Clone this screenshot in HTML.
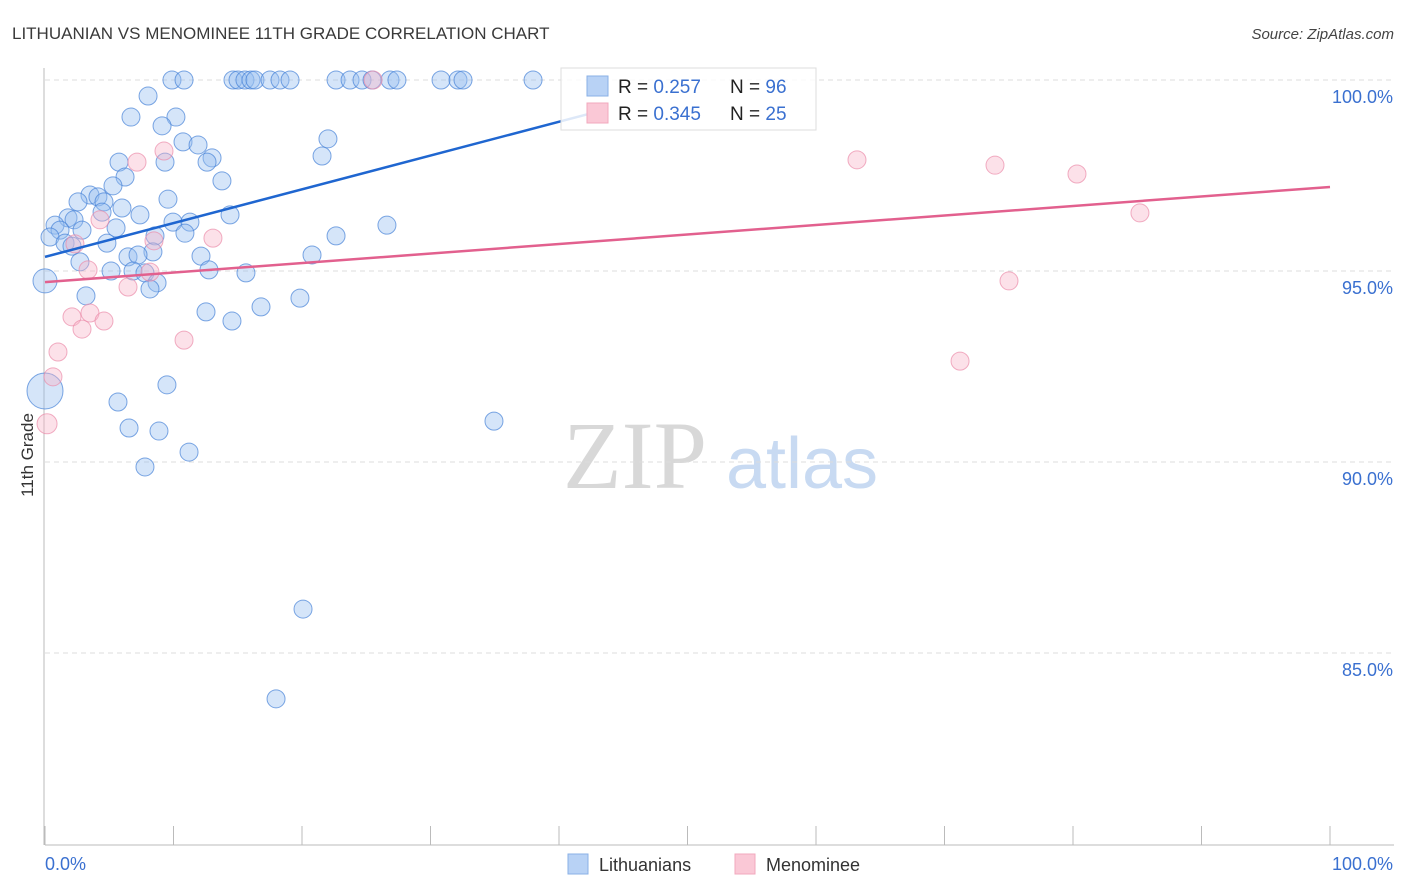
<!DOCTYPE html>
<html><head><meta charset="utf-8"><style>
body{margin:0;background:#fff;}
svg{display:block;font-family:"Liberation Sans",sans-serif;}
</style></head><body>
<svg id="chart" width="1406" height="892" viewBox="0 0 1406 892">
<text x="12" y="39" font-size="17" fill="#3a3a3a">LITHUANIAN VS MENOMINEE 11TH GRADE CORRELATION CHART</text>
<text x="1394" y="39" font-size="15" fill="#444" font-style="italic" text-anchor="end">Source: ZipAtlas.com</text>
<g>
<text x="635" y="488" font-size="96" font-family="Liberation Serif,serif" fill="#d8d8d8" text-anchor="middle">ZIP</text>
<text x="802" y="488" font-size="72" fill="#c8daf2" text-anchor="middle">atlas</text>
</g>
<g id="grid"></g>
<g id="axes"></g>
<g id="points"></g>
<g id="lines"></g>
<text transform="translate(33,455) rotate(-90)" font-size="17" fill="#333" text-anchor="middle">11th Grade</text>
<g>
<rect x="561" y="68" width="255" height="62" fill="#fff" fill-opacity="0.85" stroke="#ddd"/>
<rect x="587" y="76" width="21" height="20" fill="#b8d2f5" stroke="#8ab0e6"/>
<rect x="587" y="103" width="21" height="20" fill="#fac8d6" stroke="#f2a8bd"/>
<text x="618" y="93" font-size="19" fill="#222">R = <tspan fill="#3a70d0">0.257</tspan><tspan x="730">N = </tspan><tspan fill="#3a70d0">96</tspan></text>
<text x="618" y="120" font-size="19" fill="#222">R = <tspan fill="#3a70d0">0.345</tspan><tspan x="730">N = </tspan><tspan fill="#3a70d0">25</tspan></text>
</g>
<g>
<rect x="568" y="854" width="20" height="20" fill="#b8d2f5" stroke="#8ab0e6"/>
<text x="599" y="871" font-size="18" fill="#333">Lithuanians</text>
<rect x="735" y="854" width="20" height="20" fill="#fac8d6" stroke="#f2a8bd"/>
<text x="766" y="871" font-size="18" fill="#333">Menominee</text>
</g>
</svg>
<script>
const yTicks=[100,95,90,85];
const yTickLabels=["100.0%","95.0%","90.0%","85.0%"];
const xTicks=[0,10,20,30,40,50,60,70,80,90,100];
const xEndLabels=["0.0%","100.0%"];
const blueX=[9.88,10.82,14.63,15.02,15.56,16.03,16.34,17.51,18.29,19.07,22.65,23.74,24.67,25.45,26.85,27.39,30.82,32.14,32.53,37.98,
8.02,6.69,10.19,9.11,10.74,11.91,22.02,5.76,9.34,13.0,12.61,21.56,6.23,13.77,5.29,3.5,4.12,9.57,2.57,4.59,4.44,5.99,7.39,14.40,1.79,0.78,2.26,1.17,2.88,5.53,9.96,11.28,10.89,8.56,22.65,26.61,0.39,1.56,2.1,4.82,8.4,6.46,7.24,12.14,20.78,2.72,5.14,6.85,7.78,12.76,15.64,8.72,8.17,3.19,0,12.53,14.55,16.81,19.84,9.49,5.68,0,6.54,8.87,11.21,34.94,7.78,20.08,17.98];
const blueY=[100,100,100,100,100,100,100,100,100,100,100,100,100,100,100,100,100,100,100,100,
99.58,99.03,99.03,98.80,98.38,98.30,98.46,97.85,97.85,97.96,97.85,98.01,97.46,97.36,97.23,96.99,96.94,96.88,96.81,96.81,96.54,96.65,96.47,96.47,96.39,96.20,96.34,96.07,96.07,96.13,96.28,96.28,95.99,95.92,95.92,96.20,95.89,95.73,95.65,95.73,95.50,95.37,95.42,95.39,95.42,95.24,95.0,95.0,94.95,95.03,94.95,94.69,94.53,94.35,94.74,93.93,93.69,94.06,94.29,92.02,91.57,91.86,90.89,90.81,90.26,91.07,89.87,86.15,83.80];
const blueSize=[];
const pinkX=[25.53,7.16,9.26,63.19,73.93,80.31,85.21,13.07,8.48,4.28,3.35,8.17,6.46,75.02,2.1,3.5,4.59,2.88,10.82,1.01,71.21,0.62,0.16,2.33];
const pinkY=[100,97.85,98.14,97.91,97.77,97.54,96.52,95.86,95.79,96.34,95.03,94.97,94.58,94.74,93.80,93.90,93.69,93.48,93.19,92.88,92.64,92.23,91.0,95.71];
const blueTrend=[[0,95.37],[43.2,99.19]];
const pinkTrend=[[0,94.71],[100,97.2]];

const NS="http://www.w3.org/2000/svg";
const X=v=>45+v*12.85;
const Y=v=>80+(100-v)*38.2;
function mk(tag,attrs,parent){const e=document.createElementNS(NS,tag);for(const k in attrs)e.setAttribute(k,attrs[k]);parent.appendChild(e);return e;}
const grid=document.getElementById('grid'),axes=document.getElementById('axes'),pts=document.getElementById('points'),lines=document.getElementById('lines');
yTicks.forEach((t,i)=>{
 const l=mk('line',{x1:45,x2:1394,y1:Y(t),y2:Y(t),stroke:'#dcdcdc','stroke-dasharray':'5,4'},grid);
 
 
 const tx=mk('text',{x:1393,y:Y(t)+23,'font-size':18,fill:'#3a70d0','text-anchor':'end'},axes);
 tx.textContent=yTickLabels[i];
 
 
});
const ax=mk('line',{x1:45,x2:1394,y1:845,y2:845,stroke:'#bbb'},axes);


const ay=mk('line',{x1:44,x2:44,y1:68,y2:845,stroke:'#bbb'},axes);


xTicks.forEach(t=>{
 const l=mk('line',{x1:X(t),x2:X(t),y1:826,y2:845,stroke:'#bbb'},axes);
 
 
});
const xl0=mk('text',{x:45,y:870,'font-size':18,fill:'#3a70d0'},axes);xl0.textContent=xEndLabels[0];


const xl1=mk('text',{x:1393,y:870,'font-size':18,fill:'#3a70d0','text-anchor':'end'},axes);xl1.textContent=xEndLabels[1];


blueX.forEach((x,i)=>{
 const big=(x===0)?(blueY[i]<93?18:12):9;
 const c=mk('circle',{cx:X(x),cy:Y(blueY[i]),r:big,fill:'rgba(150,190,240,0.4)',stroke:'rgba(70,130,215,0.7)','stroke-width':1},pts);
 
 
});
pinkX.forEach((x,i)=>{
 const c=mk('circle',{cx:X(x),cy:Y(pinkY[i]),r:(x<0.5?10:9),fill:'rgba(248,180,200,0.4)',stroke:'rgba(235,140,170,0.7)','stroke-width':1},pts);
 
 
});
const bl=mk('line',{x1:X(blueTrend[0][0]),y1:Y(blueTrend[0][1]),x2:X(blueTrend[1][0]),y2:Y(blueTrend[1][1]),stroke:'#1f66d0','stroke-width':2.5},lines);


const pl=mk('line',{x1:X(pinkTrend[0][0]),y1:Y(pinkTrend[0][1]),x2:X(pinkTrend[1][0]),y2:Y(pinkTrend[1][1]),stroke:'#e2608e','stroke-width':2.5},lines);


</script>
</body></html>
